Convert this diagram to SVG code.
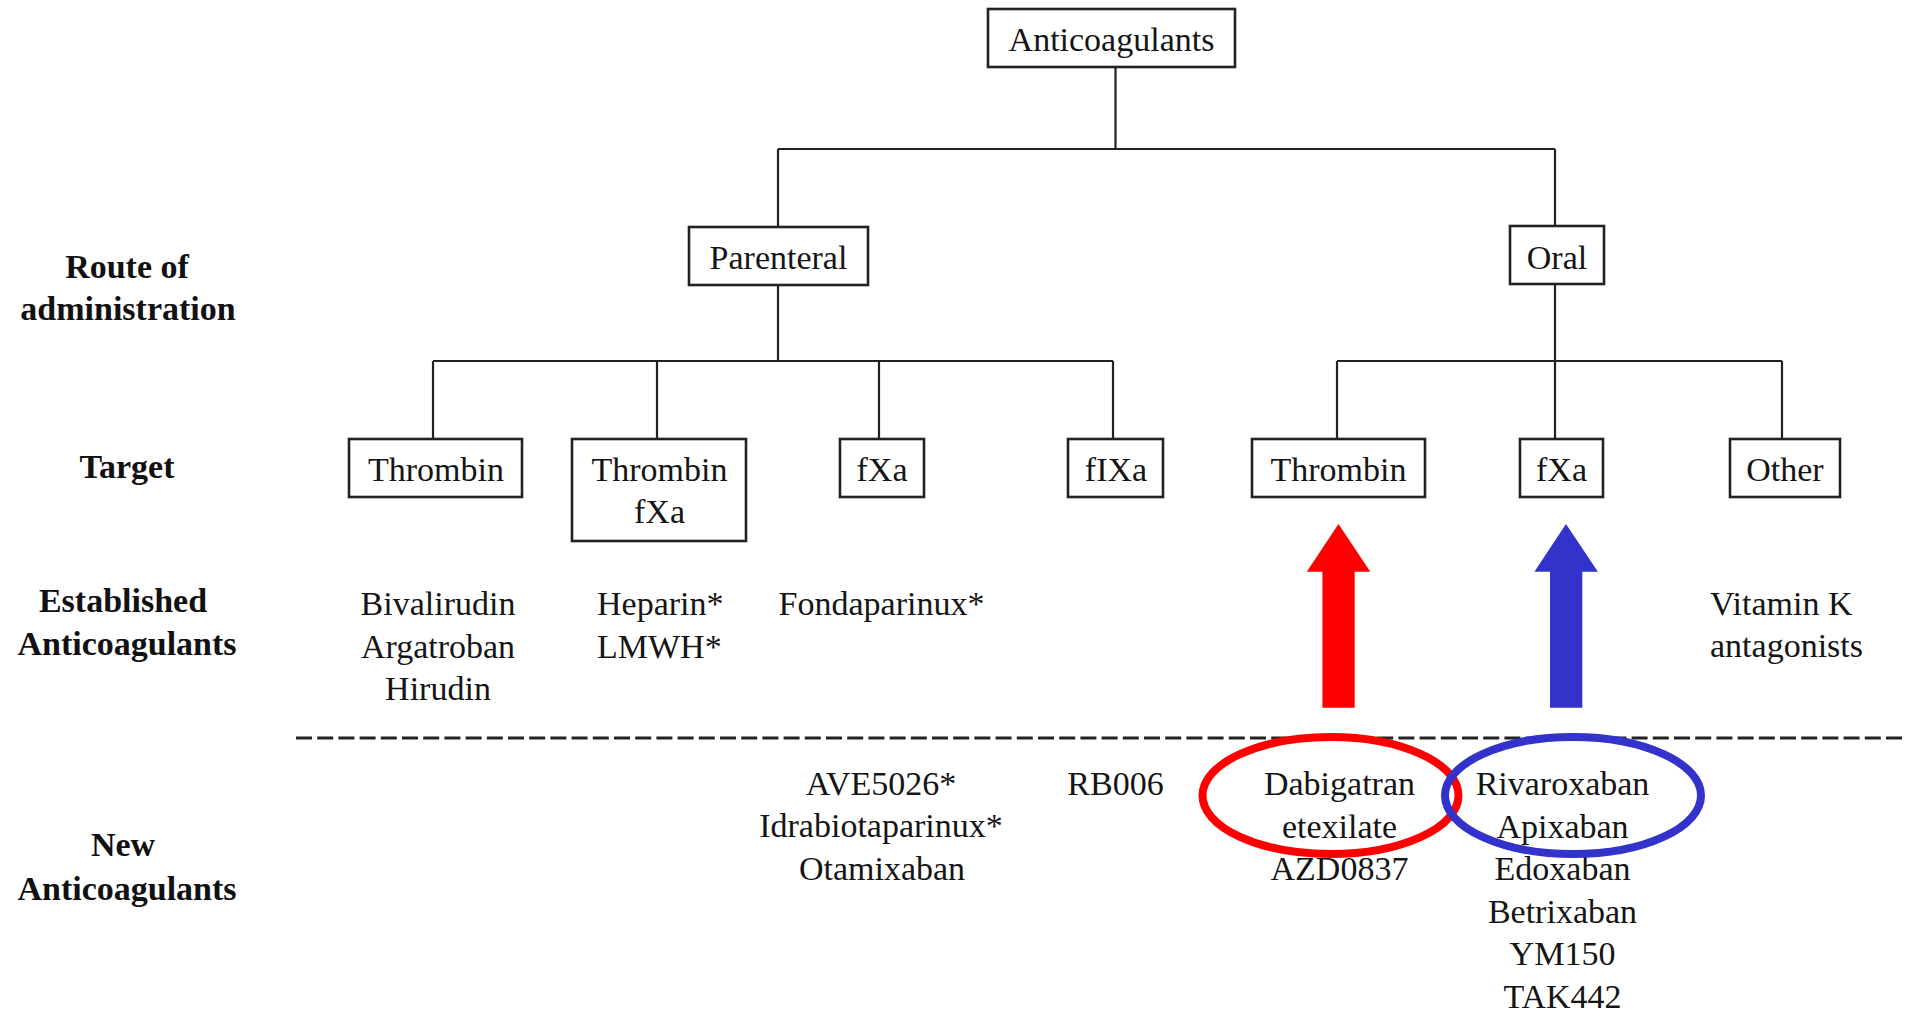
<svg xmlns="http://www.w3.org/2000/svg" width="1915" height="1015" viewBox="0 0 1915 1015">
<style>
.box{fill:#fff;stroke:#222;stroke-width:2.6}
.t{font-family:"Liberation Serif","Times New Roman",serif;font-size:34px;fill:#151515;text-anchor:middle}
.s{text-anchor:start}
.h{font-family:"Liberation Serif","Times New Roman",serif;font-size:34px;font-weight:bold;fill:#111;text-anchor:middle}
.ln{fill:none;stroke:#222;stroke-width:2.2}
</style>
<rect width="1915" height="1015" fill="#fff"/>
<g id="connectors">
<path class="ln" d="M1115.5 67 V149 M778 149 H1555 M778 149 V227 M1555 149 V226 M778 285 V361 M433 361 H1113 M433 361 V439 M657 361 V439 M879 361 V439 M1113 361 V439 M1555 284 V439 M1337 361 H1782 M1337 361 V439 M1782 361 V439"/>
<polygon id="red-arrow" fill="#FF0000" points="1322.4,707.7 1322.4,571.7 1306.8,571.7 1338.5,524 1370.3,571.7 1354.7,571.7 1354.7,707.7"/>
<polygon id="blue-arrow" fill="#3333CC" points="1550,707.7 1550,571.7 1534.4,571.7 1566,524 1597.9,571.7 1582.3,571.7 1582.3,707.7"/>
</g>
<g id="row-labels">
<text class="h" x="127" y="278">Route of</text>
<text class="h" x="128" y="320">administration</text>
<text class="h" x="127" y="478">Target</text>
<text class="h" x="123" y="612">Established</text>
<text class="h" x="127" y="655">Anticoagulants</text>
<text class="h" x="123" y="856">New</text>
<text class="h" x="127" y="900">Anticoagulants</text>
</g>
<g id="n-anticoagulants"><rect class="box" x="988" y="9" width="247" height="58"/><text class="t" x="1111.5" y="51">Anticoagulants</text></g>
<g id="n-parenteral"><rect class="box" x="689" y="227" width="179" height="58"/><text class="t" x="778.5" y="269">Parenteral</text></g>
<g id="n-oral"><rect class="box" x="1510" y="226" width="94" height="58"/><text class="t" x="1557" y="269">Oral</text></g>
<g id="n-p-thrombin"><rect class="box" x="349" y="439" width="173" height="58"/><text class="t" x="436" y="481">Thrombin</text></g>
<g id="n-p-thrombin-fxa"><rect class="box" x="572" y="439" width="174" height="102"/><text class="t" x="659.5" y="481">Thrombin</text><text class="t" x="659.5" y="523">fXa</text></g>
<g id="n-p-fxa"><rect class="box" x="840" y="439" width="84" height="58"/><text class="t" x="882" y="481">fXa</text></g>
<g id="n-p-fixa"><rect class="box" x="1068" y="439" width="95" height="58"/><text class="t" x="1116" y="481">fIXa</text></g>
<g id="n-o-thrombin"><rect class="box" x="1252" y="439" width="173" height="58"/><text class="t" x="1338.5" y="481">Thrombin</text></g>
<g id="n-o-fxa"><rect class="box" x="1520" y="439" width="83" height="58"/><text class="t" x="1561.5" y="481">fXa</text></g>
<g id="n-o-other"><rect class="box" x="1730" y="439" width="110" height="58"/><text class="t" x="1785" y="481">Other</text></g>
<g id="established">
<text class="t" x="438" y="615">Bivalirudin</text>
<text class="t" x="438" y="658">Argatroban</text>
<text class="t" x="438" y="700">Hirudin</text>
<text class="t s" x="597" y="615">Heparin*</text>
<text class="t s" x="597" y="658">LMWH*</text>
<text class="t" x="881.5" y="615">Fondaparinux*</text>
<text class="t s" x="1710" y="615">Vitamin K</text>
<text class="t s" x="1710" y="657">antagonists</text>
</g>
<path id="divider" d="M296 738 H1902" fill="none" stroke="#222" stroke-width="3" stroke-dasharray="16 5.2"/>
<g id="new">
<text class="t" x="881" y="795">AVE5026*</text>
<text class="t" x="881" y="837">Idrabiotaparinux*</text>
<text class="t" x="882" y="880">Otamixaban</text>
<text class="t" x="1115.5" y="795">RB006</text>
<text class="t" x="1339.5" y="795">Dabigatran</text>
<text class="t" x="1339.5" y="838">etexilate</text>
<text class="t" x="1339.5" y="880">AZD0837</text>
<text class="t" x="1562.5" y="795">Rivaroxaban</text>
<text class="t" x="1562.5" y="838">Apixaban</text>
<text class="t" x="1562.5" y="880">Edoxaban</text>
<text class="t" x="1562.5" y="923">Betrixaban</text>
<text class="t" x="1562.5" y="965">YM150</text>
<text class="t" x="1562.5" y="1008">TAK442</text>
</g>
<g id="highlights">
<ellipse cx="1330.5" cy="795.5" rx="128" ry="58.5" fill="none" stroke="#FF0000" stroke-width="8"/>
<ellipse cx="1573" cy="795.5" rx="128" ry="58.5" fill="none" stroke="#3333CC" stroke-width="8"/>
</g>
</svg>
